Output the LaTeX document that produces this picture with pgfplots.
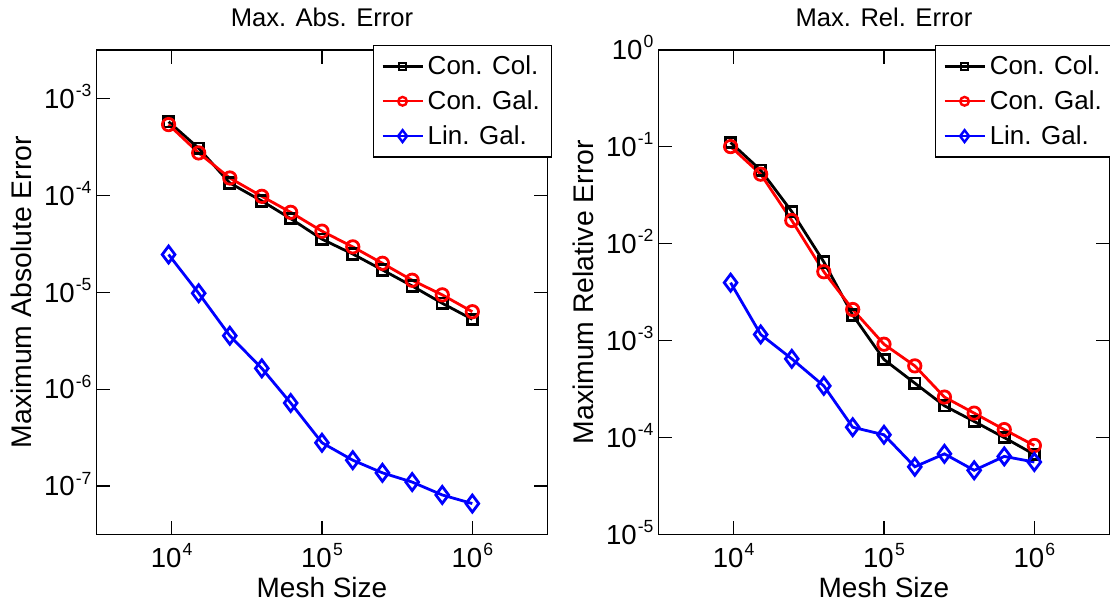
\documentclass[border=0pt]{standalone}
\usepackage{fontspec}
\setmainfont{Liberation Sans}
\usepackage{pgfplots}
\usepackage{pgfplotstable}
\pgfplotsset{compat=1.18}

% 10^k in the text font
\newcommand\pw[1]{10\hspace{0.6pt}\raisebox{5.9pt}{\fontsize{8.8}{10}\selectfont #1}}

\pgfplotstableread{
x       cc       cg       lg
9550    5.75e-4  5.37e-4  2.45e-5
15136   3.06e-4  2.74e-4  9.77e-6
24378   1.34e-4  1.51e-4  3.56e-6
39810   8.75e-5  9.77e-5  1.64e-6
61944   5.75e-5  6.68e-5  7.2e-7
100000  3.53e-5  4.27e-5  2.8e-7
160300  2.48e-5  2.94e-5  1.85e-7
252345  1.7e-5   1.99e-5  1.37e-7
398107  1.16e-5  1.33e-5  1.1e-7
630957  7.7e-6   9.4e-6   8.1e-8
1000000 5.26e-6  6.3e-6   6.6e-8
}\abserr

\pgfplotstableread{
x       cc       cg       lg
9550    0.111    0.1007   3.97e-3
15136   0.0575   0.0523   1.16e-3
24378   0.0215   0.0174   6.5e-4
39810   6.5e-3   5.15e-3  3.42e-4
61944   1.84e-3  2.1e-3   1.28e-4
100000  6.4e-4   9.2e-4   1.07e-4
160300  3.65e-4  5.5e-4   5.0e-5
252345  2.13e-4  2.62e-4  6.8e-5
398107  1.47e-4  1.79e-4  4.6e-5
630957  1.0e-4   1.21e-4  6.4e-5
1000000 6.7e-5   8.3e-5   5.6e-5
}\relerr

\pgfplotsset{
  every axis/.append style={
    scale only axis,
    width=225.75pt, height=242.5pt,
    xmin=3162.28, xmax=3162277.7,
    xminorticks=false, yminorticks=false,
    xtick={1e4,1e5,1e6},
    xticklabels={\pw{4},\pw{5},\pw{6}},
    tick align=inside,
    major tick length=7pt,
    tick style={black, line width=0.6pt},
    axis line style={line width=0.8pt},
    xticklabel style={anchor=base, yshift=-16.5pt, font=\fontsize{13.8}{15}\selectfont},
    yticklabel style={anchor=base east, inner sep=0pt, xshift=-2.25pt, yshift=-4.9pt, font=\fontsize{13.8}{15}\selectfont},
    title style={at={(axis description cs:0.5,1)}, anchor=base, yshift=5.5pt, font=\fontsize{12.8}{15}\selectfont},
    xlabel style={at={(axis description cs:0.5,0)}, anchor=base, yshift=-31.5pt, font=\fontsize{14}{16}\selectfont},
    ylabel style={at={(axis description cs:-0.1672,0.5)}, anchor=center, font=\fontsize{14.2}{16}\selectfont},
    legend cell align=left,
    legend style={at={(rel axis cs:1.011,1.0103)}, anchor=north east,
      draw=black, line width=0.6pt, fill=white,
      font=\fontsize{13}{15}\selectfont,
      inner xsep=4pt, inner ysep=3pt, row sep=2.5pt},
  },
}

\begin{document}
\begin{tikzpicture}
\begin{loglogaxis}[
  at={(0pt,0pt)}, anchor=south west,
  legend image code/.code={\draw[mark repeat=2,mark phase=2,mark size=0.7\pgfplotmarksize,line width=1.2pt] plot coordinates {(0pt,0pt) (10pt,0pt) (20pt,0pt)};},
  ymin=3.1623e-8, ymax=3.1623e-3,
  ytick={1e-7,1e-6,1e-5,1e-4,1e-3},
  yticklabels={\pw{-7},\pw{-6},\pw{-5},\pw{-4},\pw{-3}},
  title={Max. Abs. Error},
  xlabel={Mesh Size},
  ylabel={Maximum Absolute Error}]
\addplot[black, line width=1.4pt, mark=square, mark size=2.6pt] table[x=x,y=cc] {\abserr};
\addplot[red, line width=1.4pt, mark=o, mark size=3.1pt] table[x=x,y=cg] {\abserr};
\addplot[blue, line width=1.4pt, mark=diamond, mark size=4.25pt] table[x=x,y=lg] {\abserr};
\legend{Con. Col.,Con. Gal.,Lin. Gal.}
\end{loglogaxis}
\begin{loglogaxis}[
  at={(281.25pt,0pt)}, anchor=south west,
  legend image code/.code={\draw[mark repeat=2,mark phase=2,mark size=0.7\pgfplotmarksize,line width=1.2pt] plot coordinates {(0pt,0pt) (10pt,0pt) (20pt,0pt)};},
  ymin=1e-5, ymax=1,
  ytick={1e-5,1e-4,1e-3,1e-2,1e-1,1},
  yticklabels={\pw{-5},\pw{-4},\pw{-3},\pw{-2},\pw{-1},\pw{0}},
  title={Max. Rel. Error},
  xlabel={Mesh Size},
  ylabel={Maximum Relative Error}]
\addplot[black, line width=1.4pt, mark=square, mark size=2.6pt] table[x=x,y=cc] {\relerr};
\addplot[red, line width=1.4pt, mark=o, mark size=3.1pt] table[x=x,y=cg] {\relerr};
\addplot[blue, line width=1.4pt, mark=diamond, mark size=4.25pt] table[x=x,y=lg] {\relerr};
\legend{Con. Col.,Con. Gal.,Lin. Gal.}
\end{loglogaxis}
\pgfresetboundingbox
\useasboundingbox (-48.25pt,-33.5pt) rectangle (507.25pt,267.5pt);
\end{tikzpicture}
\end{document}
